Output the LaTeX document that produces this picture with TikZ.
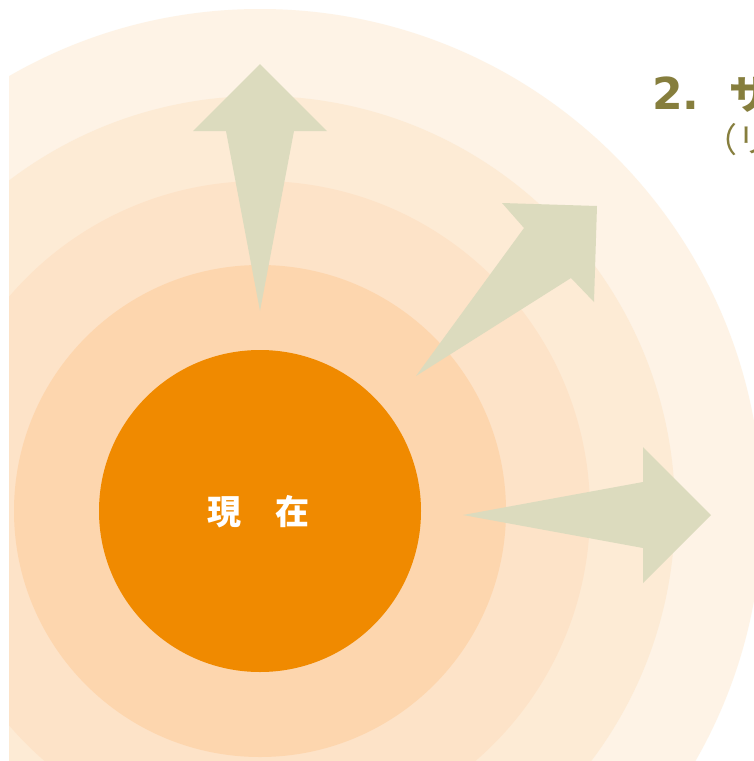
\documentclass[tikz,border=0pt]{standalone}
\usepackage{fontspec}
\newfontfamily\cjk{Noto Sans CJK JP}
\newfontfamily\dejab{DejaVu Sans}
\definecolor{ringA}{HTML}{FEF3E6}
\definecolor{ringB}{HTML}{FDEBD5}
\definecolor{ringC}{HTML}{FDE3C8}
\definecolor{ringD}{HTML}{FDD6AE}
\definecolor{core}{HTML}{F08A00}
\definecolor{arrowc}{HTML}{DCDBBE}
\definecolor{olive}{HTML}{867E3D}
\tikzset{
  ring/.style={circle,inner sep=0pt,draw=none},
  bigarrow/.style={fill=arrowc,draw=none},
}
\begin{document}
\begin{tikzpicture}[x=1pt,y=-1pt]
\path[use as bounding box,fill=white] (0,0) rectangle (754,761);
\begin{scope}
\clip (9,0) rectangle (754,761);
\node[ring,fill=ringA,minimum size=1004pt] (r4) at (260,511) {};
\node[ring,fill=ringB,minimum size=830pt] (r3) at (260,511) {};
\node[ring,fill=ringC,minimum size=660pt] (r2) at (260,511) {};
\node[ring,fill=ringD,minimum size=492pt] (r1) at (260,511) {};
\node[ring,fill=core,minimum size=322pt] (c0) at (260,511) {};
\node[text=white,font=\cjk\bfseries\fontsize{34}{40}\selectfont] (now) at (258,512) {現　在};
\end{scope}
% arrows
\fill[bigarrow] (260,64) -- (327,131) -- (294,131) -- (260,311) -- (226,131) -- (193,131) -- cycle;
\fill[bigarrow] (597,206) -- (594,302) -- (571,278) -- (416,376) -- (524,228) -- (502,203) -- cycle;
\fill[bigarrow] (711,515) -- (643,583) -- (643,548) -- (463,515) -- (643,482) -- (643,447) -- cycle;
% title (cut off at the right edge)
\begin{scope}
\clip (0,0) rectangle (754,761);
\node[anchor=base west,inner sep=0pt,text=olive,font=\dejab\bfseries\fontsize{44}{50}\selectfont] (t1) at (652,109) {2.};
\node[anchor=base west,inner sep=0pt,text=olive,font=\cjk\bfseries\fontsize{40}{48}\selectfont] (t2) at (729,109) {サ};
\node[anchor=base west,inner sep=0pt,text=olive,font=\cjk\fontsize{34}{40}\selectfont] (t3) at (703,152) {（リ};
\end{scope}
\end{tikzpicture}
\end{document}
